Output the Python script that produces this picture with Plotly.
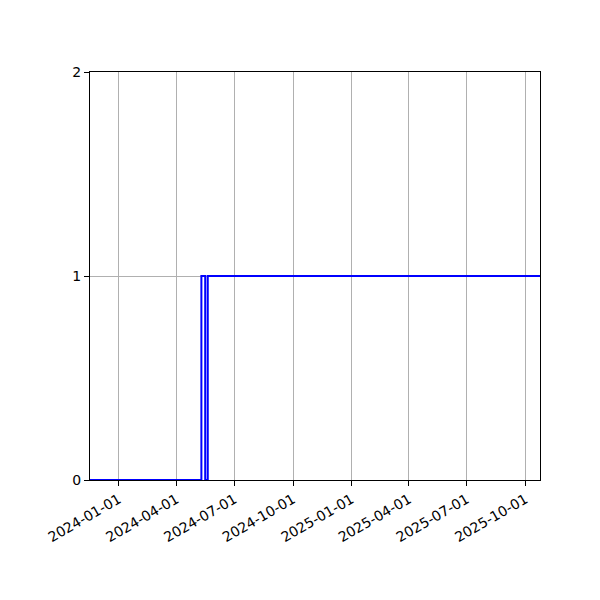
import plotly.graph_objects as go

# step data
dates = ["2023-11-17", "2024-05-10", "2024-05-16", "2024-05-20", "2025-10-24"]
values = [0, 1, 0, 1, 1]

tick_dates = ["2024-01-01", "2024-04-01", "2024-07-01", "2024-10-01",
              "2025-01-01", "2025-04-01", "2025-07-01", "2025-10-01"]
y_ticks = [0, 1, 2]

fig = go.Figure(go.Scatter(
    x=dates,
    y=values,
    mode="lines",
    line=dict(color="blue", width=2, shape="hv"),
))

axis_style = dict(
    showline=True,
    linecolor="black",
    linewidth=1,
    mirror=True,
    ticks="outside",
    ticklen=5,
    tickcolor="black",
    showgrid=True,
    gridcolor="#b0b0b0",
    gridwidth=1,
    zeroline=False,
)

# page body has an 8px margin, so offset the plot area by that much
fig.update_layout(
    width=600,
    height=600,
    margin=dict(l=82, r=68, t=64, b=128),
    plot_bgcolor="white",
    paper_bgcolor="white",
    showlegend=False,
    font=dict(family="DejaVu Sans", size=14, color="black"),
    xaxis=dict(
        range=[dates[0], dates[-1]],
        tickvals=tick_dates,
        ticktext=tick_dates,
        tickangle=-30,
        **axis_style,
    ),
    yaxis=dict(
        range=[0, 2],
        tickvals=y_ticks,
        **axis_style,
    ),
)

fig.write_html("out.html")
